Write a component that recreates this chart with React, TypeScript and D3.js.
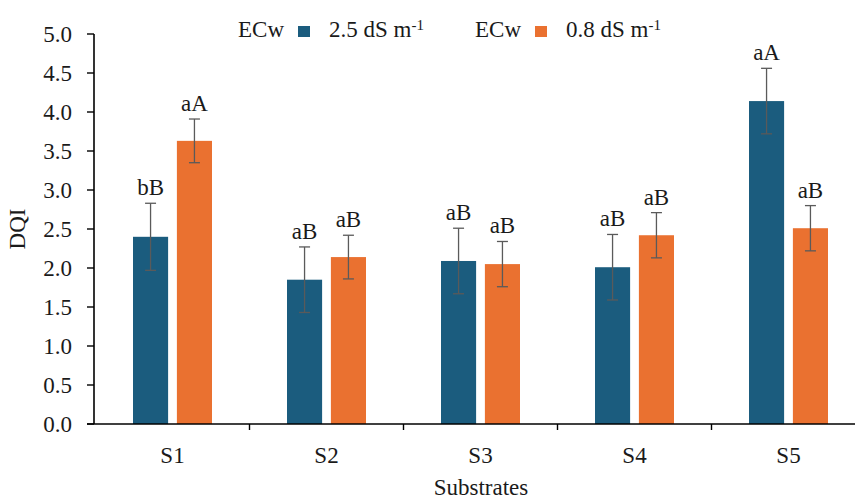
import React from "react";
import * as d3 from "d3";

const categories = ["S1", "S2", "S3", "S4", "S5"];
const seriesNames = ["2.5 dS m", "0.8 dS m"];
const highValues = [2.4, 1.85, 2.09, 2.01, 4.14];
const highErrors = [0.43, 0.42, 0.42, 0.42, 0.42];
const lowValues = [3.63, 2.14, 2.05, 2.42, 2.51];
const lowErrors = [0.28, 0.28, 0.29, 0.29, 0.29];
const highLetters = ["bB", "aB", "aB", "aB", "aA"];
const lowLetters = ["aA", "aB", "aB", "aB", "aB"];
const yTicks = [0, 0.5, 1, 1.5, 2, 2.5, 3, 3.5, 4, 4.5, 5];

const W = 855;
const H = 500;
const COLORS = ["#1b5c7e", "#ea7130"];
const TXT: React.CSSProperties = { fontFamily: "Liberation Serif", fontSize: 23 };
const INK = "#1a1a1a";
const ERR = "#5a5a5a";

const axisX = 94;
const x = d3.scaleBand().domain(categories).range([95.5, 95.5 + 154 * 5]).padding(0);
const x1 = d3.scaleBand().domain(["h", "l"]).range([37.5, 116.5]).paddingInner(0.2);
const y = d3.scaleLinear().domain([0, 5]).range([424, 34]);

const series = [
  { key: "h", values: highValues, errors: highErrors, letters: highLetters, color: COLORS[0] },
  { key: "l", values: lowValues, errors: lowErrors, letters: lowLetters, color: COLORS[1] },
];

export default function App() {
  const bw = x1.bandwidth();
  return (
    <svg width={W} height={H} style={{ position: "absolute", left: 0, top: 0, background: "#fff" }}>
      {series.map((s) =>
        categories.map((c, i) => {
          const bx = (x(c) as number) + (x1(s.key) as number);
          const cx = bx + bw / 2;
          const top = y(s.values[i] + s.errors[i]);
          const bot = y(s.values[i] - s.errors[i]);
          return (
            <g key={s.key + c}>
              <rect x={bx} y={y(s.values[i])} width={bw} height={y(0) - y(s.values[i])} fill={s.color} />
              <line x1={cx} x2={cx} y1={top} y2={bot} stroke={ERR} strokeWidth={1.3} />
              <line x1={cx - 5.5} x2={cx + 5.5} y1={top} y2={top} stroke={ERR} strokeWidth={1.3} />
              <line x1={cx - 5.5} x2={cx + 5.5} y1={bot} y2={bot} stroke={ERR} strokeWidth={1.3} />
              <text x={cx} y={top - 8} textAnchor="middle" style={TXT} fill={INK}>
                {s.letters[i]}
              </text>
            </g>
          );
        })
      )}

      {/* y axis */}
      <line x1={axisX} x2={axisX} y1={y(5)} y2={y(0)} stroke="#000" strokeWidth={1.6} />
      {yTicks.map((t) => (
        <g key={t}>
          <line x1={axisX - 7} x2={axisX} y1={y(t)} y2={y(t)} stroke="#000" strokeWidth={1.4} />
          <text x={72} y={y(t)} dy="0.35em" textAnchor="end" style={TXT} fill={INK}>
            {d3.format(".1f")(t)}
          </text>
        </g>
      ))}

      {/* x axis */}
      <line x1={axisX - 7} x2={W} y1={y(0)} y2={y(0)} stroke="#000" strokeWidth={1.6} />
      {categories.map((c, i) => (
        <g key={c}>
          {i > 0 && (
            <line x1={x(c) as number} x2={x(c) as number} y1={y(0)} y2={y(0) + 6} stroke="#000" strokeWidth={1.4} />
          )}
          <text x={(x(c) as number) + x.bandwidth() / 2} y={463} textAnchor="middle" style={TXT} fill={INK}>
            {c}
          </text>
        </g>
      ))}

      <text x={481} y={495} textAnchor="middle" style={TXT} fill={INK}>
        Substrates
      </text>
      <text transform={`translate(25,${y(2.5)}) rotate(-90)`} textAnchor="middle" style={TXT} fill={INK}>
        DQI
      </text>

      {/* legend */}
      {[
        { lx: 238, color: COLORS[0], label: seriesNames[0] },
        { lx: 475, color: COLORS[1], label: seriesNames[1] },
      ].map((l) => (
        <g key={l.lx} transform={`translate(${l.lx},37)`}>
          <text x={0} y={0} style={TXT} fill={INK}>
            ECw
          </text>
          <rect x={60} y={-11} width={12} height={11} fill={l.color} />
          <text x={91} y={0} style={TXT} fill={INK}>
            <tspan>{l.label}</tspan>
            <tspan dy="-0.45em" style={{ fontSize: 15 }}>
              -1
            </tspan>
          </text>
        </g>
      ))}
    </svg>
  );
}
